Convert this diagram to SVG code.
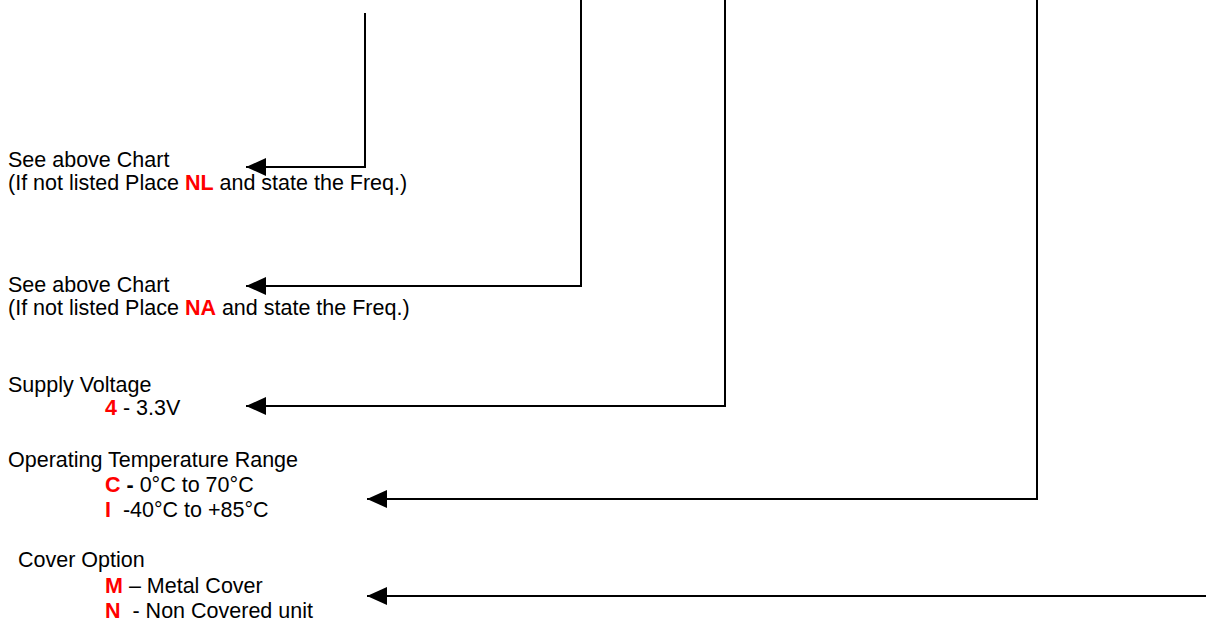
<svg xmlns="http://www.w3.org/2000/svg" width="1220" height="624" viewBox="0 0 1220 624">
<style>
text{font-family:"Liberation Sans",Arial,sans-serif;font-size:21.5px;fill:#000}
.r{fill:#ff0000;font-weight:bold}
.c{fill:none;stroke:#000;stroke-width:2}
</style>
<defs>
<marker id="ah" markerUnits="userSpaceOnUse" markerWidth="22" markerHeight="20" refX="21" refY="10" orient="auto" viewBox="0 0 22 20">
<path d="M1,1 L1,19 L21,10 Z" fill="#000"/>
</marker>
</defs>
<rect width="1220" height="624" fill="#fff"/>
<g id="connectors">
<polyline class="c" points="365,13 365,167 246,167" marker-end="url(#ah)"/>
<polyline class="c" points="581,0 581,286 246,286" marker-end="url(#ah)"/>
<polyline class="c" points="725,0 725,406 246,406" marker-end="url(#ah)"/>
<polyline class="c" points="1037,0 1037,499 367,499" marker-end="url(#ah)"/>
<line class="c" x1="1206" y1="596" x2="367" y2="596" marker-end="url(#ah)"/>
</g>
<g id="freq1">
<text x="8" y="167">See above Chart</text>
<text x="8" y="190">(If not listed Place <tspan class="r">NL</tspan> and state the Freq.)</text>
</g>
<g id="freq2">
<text x="8" y="292">See above Chart</text>
<text x="8" y="315">(If not listed Place <tspan class="r">NA</tspan> and state the Freq.)</text>
</g>
<g id="voltage">
<text x="8" y="392">Supply Voltage</text>
<text x="105" y="415"><tspan class="r">4</tspan> - 3.3V</text>
</g>
<g id="temperature">
<text x="8" y="467">Operating Temperature Range</text>
<text x="105" y="492"><tspan class="r">C</tspan> <tspan font-weight="bold">-</tspan> 0°C to 70°C</text>
<text x="105" y="517" xml:space="preserve"><tspan class="r">I</tspan>  -40°C to +85°C</text>
</g>
<g id="cover">
<text x="18" y="567">Cover Option</text>
<text x="105" y="593"><tspan class="r">M</tspan> – Metal Cover</text>
<text x="105" y="618" xml:space="preserve"><tspan class="r">N</tspan>  - Non Covered unit</text>
</g>
</svg>
